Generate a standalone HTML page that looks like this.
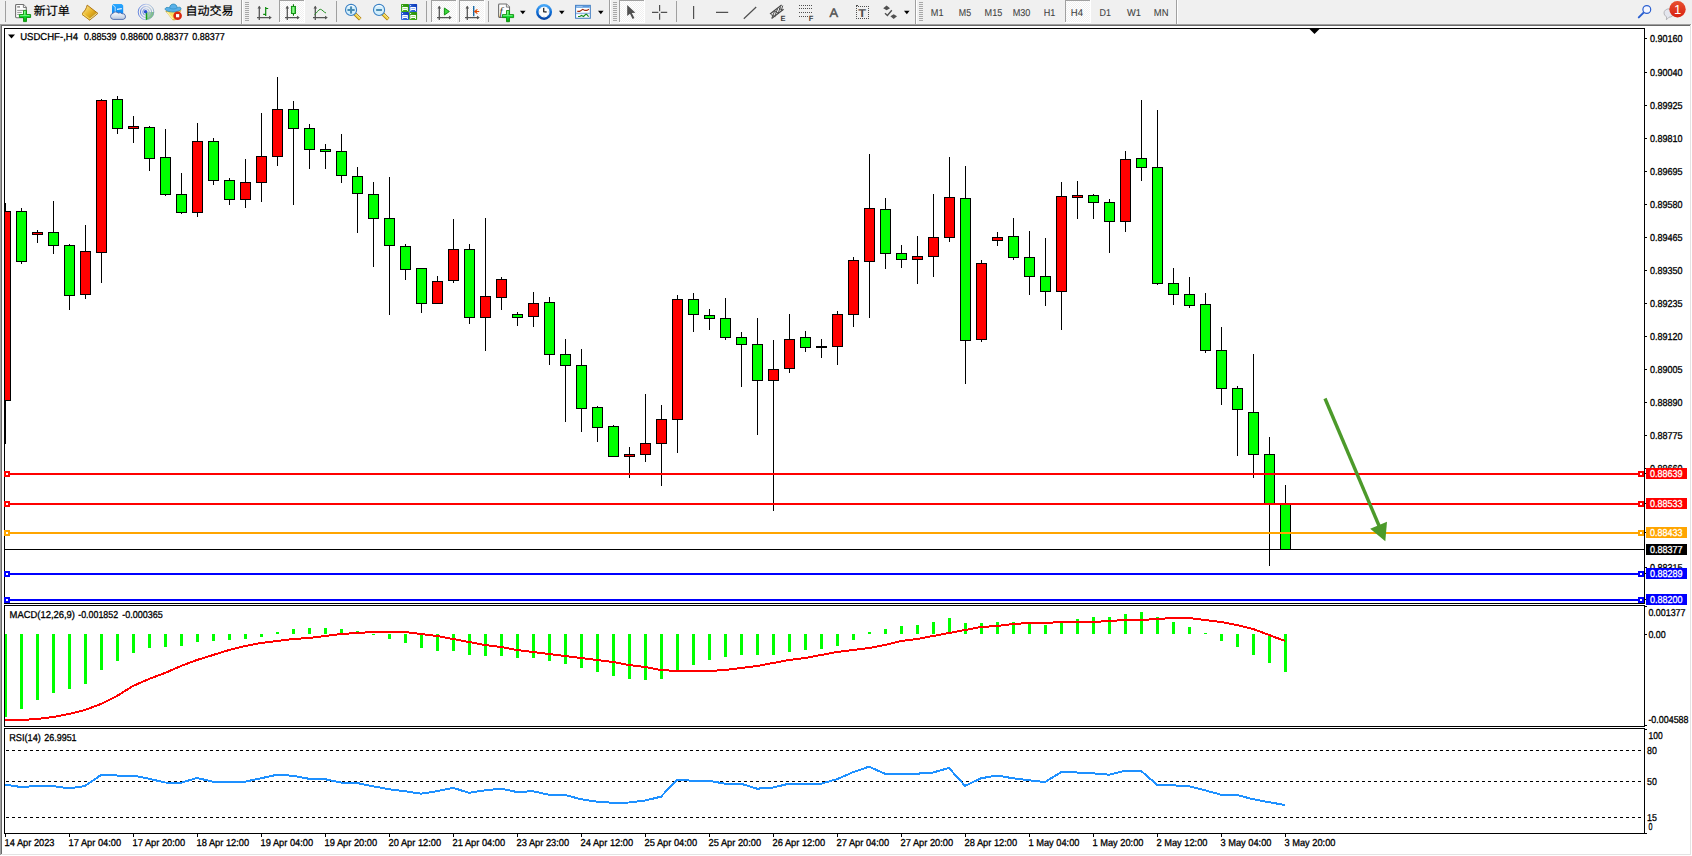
<!DOCTYPE html>
<html lang="zh-CN">
<head>
<meta charset="utf-8">
<title>USDCHF-,H4</title>
<style>
html,body{margin:0;padding:0;background:#fff;}
body{width:1692px;height:856px;overflow:hidden;}
svg{display:block;}
svg text{text-rendering:geometricPrecision;font-family:"Liberation Sans","Noto Sans CJK SC",sans-serif;}
</style>
</head>
<body>
<svg width="1692" height="856" viewBox="0 0 1692 856" shape-rendering="crispEdges">
<rect x="0" y="0" width="1692" height="856" fill="#ffffff"/>
<rect x="0" y="0" width="1692" height="24" fill="#f0f0f0"/>
<rect x="0" y="24" width="1691" height="1" fill="#a0a0a0"/>
<rect x="0" y="24" width="1" height="831" fill="#a0a0a0"/>
<rect x="1" y="25" width="1689" height="1" fill="#696969"/>
<rect x="1" y="25" width="1" height="829" fill="#696969"/>
<rect x="1690" y="25" width="1" height="830" fill="#e3e3e3"/>
<rect x="1" y="854" width="1690" height="1" fill="#e3e3e3"/>
<rect x="4" y="28" width="1641" height="1" fill="#000"/>
<rect x="4" y="28" width="1" height="806" fill="#000"/>
<rect x="1644" y="28" width="1" height="806" fill="#000"/>
<rect x="4" y="603" width="1641" height="1" fill="#000"/>
<rect x="4" y="605" width="1641" height="1" fill="#000"/>
<rect x="4" y="726" width="1641" height="1" fill="#000"/>
<rect x="4" y="728" width="1641" height="1" fill="#000"/>
<rect x="4" y="833" width="1641" height="1" fill="#000"/>
<rect x="4" y="604" width="1641" height="1" fill="#fff"/>
<rect x="4" y="727" width="1641" height="1" fill="#fff"/>
<polygon points="1309.5,29 1319.5,29 1314.5,34" fill="#000" shape-rendering="auto"/>
<clipPath id="cm"><rect x="5" y="29" width="1639" height="574"/></clipPath>
<g clip-path="url(#cm)">
<rect x="5" y="203" width="1" height="241" fill="#000"/>
<rect x="0" y="211" width="11" height="190" fill="#000"/>
<rect x="1" y="212" width="9" height="188" fill="#ff0000"/>
<rect x="21" y="208" width="1" height="56" fill="#000"/>
<rect x="16" y="211" width="11" height="51" fill="#000"/>
<rect x="17" y="212" width="9" height="49" fill="#00ff00"/>
<rect x="37" y="230" width="1" height="13" fill="#000"/>
<rect x="32" y="232" width="11" height="3" fill="#000"/>
<rect x="33" y="233" width="9" height="1" fill="#ff0000"/>
<rect x="53" y="201" width="1" height="53" fill="#000"/>
<rect x="48" y="232" width="11" height="14" fill="#000"/>
<rect x="49" y="233" width="9" height="12" fill="#00ff00"/>
<rect x="69" y="244" width="1" height="66" fill="#000"/>
<rect x="64" y="245" width="11" height="51" fill="#000"/>
<rect x="65" y="246" width="9" height="49" fill="#00ff00"/>
<rect x="85" y="225" width="1" height="74" fill="#000"/>
<rect x="80" y="251" width="11" height="44" fill="#000"/>
<rect x="81" y="252" width="9" height="42" fill="#ff0000"/>
<rect x="101" y="99" width="1" height="184" fill="#000"/>
<rect x="96" y="100" width="11" height="153" fill="#000"/>
<rect x="97" y="101" width="9" height="151" fill="#ff0000"/>
<rect x="117" y="96" width="1" height="38" fill="#000"/>
<rect x="112" y="99" width="11" height="30" fill="#000"/>
<rect x="113" y="100" width="9" height="28" fill="#00ff00"/>
<rect x="133" y="116" width="1" height="27" fill="#000"/>
<rect x="128" y="126" width="11" height="3" fill="#000"/>
<rect x="129" y="127" width="9" height="1" fill="#ff0000"/>
<rect x="149" y="126" width="1" height="45" fill="#000"/>
<rect x="144" y="127" width="11" height="32" fill="#000"/>
<rect x="145" y="128" width="9" height="30" fill="#00ff00"/>
<rect x="165" y="129" width="1" height="67" fill="#000"/>
<rect x="160" y="157" width="11" height="38" fill="#000"/>
<rect x="161" y="158" width="9" height="36" fill="#00ff00"/>
<rect x="181" y="173" width="1" height="41" fill="#000"/>
<rect x="176" y="194" width="11" height="19" fill="#000"/>
<rect x="177" y="195" width="9" height="17" fill="#00ff00"/>
<rect x="197" y="123" width="1" height="94" fill="#000"/>
<rect x="192" y="141" width="11" height="72" fill="#000"/>
<rect x="193" y="142" width="9" height="70" fill="#ff0000"/>
<rect x="213" y="138" width="1" height="47" fill="#000"/>
<rect x="208" y="141" width="11" height="40" fill="#000"/>
<rect x="209" y="142" width="9" height="38" fill="#00ff00"/>
<rect x="229" y="178" width="1" height="27" fill="#000"/>
<rect x="224" y="180" width="11" height="20" fill="#000"/>
<rect x="225" y="181" width="9" height="18" fill="#00ff00"/>
<rect x="245" y="159" width="1" height="49" fill="#000"/>
<rect x="240" y="182" width="11" height="18" fill="#000"/>
<rect x="241" y="183" width="9" height="16" fill="#ff0000"/>
<rect x="261" y="113" width="1" height="89" fill="#000"/>
<rect x="256" y="156" width="11" height="27" fill="#000"/>
<rect x="257" y="157" width="9" height="25" fill="#ff0000"/>
<rect x="277" y="77" width="1" height="89" fill="#000"/>
<rect x="272" y="109" width="11" height="48" fill="#000"/>
<rect x="273" y="110" width="9" height="46" fill="#ff0000"/>
<rect x="293" y="101" width="1" height="104" fill="#000"/>
<rect x="288" y="109" width="11" height="20" fill="#000"/>
<rect x="289" y="110" width="9" height="18" fill="#00ff00"/>
<rect x="309" y="124" width="1" height="45" fill="#000"/>
<rect x="304" y="128" width="11" height="22" fill="#000"/>
<rect x="305" y="129" width="9" height="20" fill="#00ff00"/>
<rect x="325" y="144" width="1" height="25" fill="#000"/>
<rect x="320" y="149" width="11" height="3" fill="#000"/>
<rect x="321" y="150" width="9" height="1" fill="#00ff00"/>
<rect x="341" y="134" width="1" height="49" fill="#000"/>
<rect x="336" y="151" width="11" height="25" fill="#000"/>
<rect x="337" y="152" width="9" height="23" fill="#00ff00"/>
<rect x="357" y="167" width="1" height="66" fill="#000"/>
<rect x="352" y="176" width="11" height="18" fill="#000"/>
<rect x="353" y="177" width="9" height="16" fill="#00ff00"/>
<rect x="373" y="182" width="1" height="85" fill="#000"/>
<rect x="368" y="194" width="11" height="25" fill="#000"/>
<rect x="369" y="195" width="9" height="23" fill="#00ff00"/>
<rect x="389" y="177" width="1" height="138" fill="#000"/>
<rect x="384" y="218" width="11" height="28" fill="#000"/>
<rect x="385" y="219" width="9" height="26" fill="#00ff00"/>
<rect x="405" y="244" width="1" height="36" fill="#000"/>
<rect x="400" y="246" width="11" height="24" fill="#000"/>
<rect x="401" y="247" width="9" height="22" fill="#00ff00"/>
<rect x="421" y="268" width="1" height="45" fill="#000"/>
<rect x="416" y="268" width="11" height="36" fill="#000"/>
<rect x="417" y="269" width="9" height="34" fill="#00ff00"/>
<rect x="437" y="276" width="1" height="28" fill="#000"/>
<rect x="432" y="281" width="11" height="23" fill="#000"/>
<rect x="433" y="282" width="9" height="21" fill="#ff0000"/>
<rect x="453" y="219" width="1" height="64" fill="#000"/>
<rect x="448" y="249" width="11" height="32" fill="#000"/>
<rect x="449" y="250" width="9" height="30" fill="#ff0000"/>
<rect x="469" y="244" width="1" height="80" fill="#000"/>
<rect x="464" y="249" width="11" height="69" fill="#000"/>
<rect x="465" y="250" width="9" height="67" fill="#00ff00"/>
<rect x="485" y="218" width="1" height="133" fill="#000"/>
<rect x="480" y="296" width="11" height="22" fill="#000"/>
<rect x="481" y="297" width="9" height="20" fill="#ff0000"/>
<rect x="501" y="277" width="1" height="33" fill="#000"/>
<rect x="496" y="279" width="11" height="19" fill="#000"/>
<rect x="497" y="280" width="9" height="17" fill="#ff0000"/>
<rect x="517" y="312" width="1" height="14" fill="#000"/>
<rect x="512" y="314" width="11" height="4" fill="#000"/>
<rect x="513" y="315" width="9" height="2" fill="#00ff00"/>
<rect x="533" y="292" width="1" height="35" fill="#000"/>
<rect x="528" y="303" width="11" height="14" fill="#000"/>
<rect x="529" y="304" width="9" height="12" fill="#ff0000"/>
<rect x="549" y="297" width="1" height="68" fill="#000"/>
<rect x="544" y="302" width="11" height="53" fill="#000"/>
<rect x="545" y="303" width="9" height="51" fill="#00ff00"/>
<rect x="565" y="339" width="1" height="83" fill="#000"/>
<rect x="560" y="354" width="11" height="12" fill="#000"/>
<rect x="561" y="355" width="9" height="10" fill="#00ff00"/>
<rect x="581" y="349" width="1" height="83" fill="#000"/>
<rect x="576" y="365" width="11" height="44" fill="#000"/>
<rect x="577" y="366" width="9" height="42" fill="#00ff00"/>
<rect x="597" y="406" width="1" height="36" fill="#000"/>
<rect x="592" y="407" width="11" height="21" fill="#000"/>
<rect x="593" y="408" width="9" height="19" fill="#00ff00"/>
<rect x="613" y="425" width="1" height="32" fill="#000"/>
<rect x="608" y="426" width="11" height="31" fill="#000"/>
<rect x="609" y="427" width="9" height="29" fill="#00ff00"/>
<rect x="629" y="447" width="1" height="31" fill="#000"/>
<rect x="624" y="454" width="11" height="3" fill="#000"/>
<rect x="625" y="455" width="9" height="1" fill="#ff0000"/>
<rect x="645" y="394" width="1" height="68" fill="#000"/>
<rect x="640" y="443" width="11" height="12" fill="#000"/>
<rect x="641" y="444" width="9" height="10" fill="#ff0000"/>
<rect x="661" y="405" width="1" height="81" fill="#000"/>
<rect x="656" y="419" width="11" height="25" fill="#000"/>
<rect x="657" y="420" width="9" height="23" fill="#ff0000"/>
<rect x="677" y="295" width="1" height="158" fill="#000"/>
<rect x="672" y="299" width="11" height="121" fill="#000"/>
<rect x="673" y="300" width="9" height="119" fill="#ff0000"/>
<rect x="693" y="293" width="1" height="39" fill="#000"/>
<rect x="688" y="299" width="11" height="16" fill="#000"/>
<rect x="689" y="300" width="9" height="14" fill="#00ff00"/>
<rect x="709" y="309" width="1" height="21" fill="#000"/>
<rect x="704" y="315" width="11" height="4" fill="#000"/>
<rect x="705" y="316" width="9" height="2" fill="#00ff00"/>
<rect x="725" y="298" width="1" height="42" fill="#000"/>
<rect x="720" y="318" width="11" height="20" fill="#000"/>
<rect x="721" y="319" width="9" height="18" fill="#00ff00"/>
<rect x="741" y="332" width="1" height="55" fill="#000"/>
<rect x="736" y="337" width="11" height="8" fill="#000"/>
<rect x="737" y="338" width="9" height="6" fill="#00ff00"/>
<rect x="757" y="318" width="1" height="117" fill="#000"/>
<rect x="752" y="344" width="11" height="37" fill="#000"/>
<rect x="753" y="345" width="9" height="35" fill="#00ff00"/>
<rect x="773" y="340" width="1" height="171" fill="#000"/>
<rect x="768" y="369" width="11" height="12" fill="#000"/>
<rect x="769" y="370" width="9" height="10" fill="#ff0000"/>
<rect x="789" y="314" width="1" height="59" fill="#000"/>
<rect x="784" y="339" width="11" height="30" fill="#000"/>
<rect x="785" y="340" width="9" height="28" fill="#ff0000"/>
<rect x="805" y="331" width="1" height="21" fill="#000"/>
<rect x="800" y="337" width="11" height="11" fill="#000"/>
<rect x="801" y="338" width="9" height="9" fill="#00ff00"/>
<rect x="821" y="339" width="1" height="19" fill="#000"/>
<rect x="816" y="346" width="11" height="2" fill="#000"/>
<rect x="837" y="311" width="1" height="54" fill="#000"/>
<rect x="832" y="314" width="11" height="33" fill="#000"/>
<rect x="833" y="315" width="9" height="31" fill="#ff0000"/>
<rect x="853" y="257" width="1" height="70" fill="#000"/>
<rect x="848" y="260" width="11" height="55" fill="#000"/>
<rect x="849" y="261" width="9" height="53" fill="#ff0000"/>
<rect x="869" y="154" width="1" height="164" fill="#000"/>
<rect x="864" y="208" width="11" height="54" fill="#000"/>
<rect x="865" y="209" width="9" height="52" fill="#ff0000"/>
<rect x="885" y="198" width="1" height="71" fill="#000"/>
<rect x="880" y="209" width="11" height="45" fill="#000"/>
<rect x="881" y="210" width="9" height="43" fill="#00ff00"/>
<rect x="901" y="245" width="1" height="23" fill="#000"/>
<rect x="896" y="253" width="11" height="7" fill="#000"/>
<rect x="897" y="254" width="9" height="5" fill="#00ff00"/>
<rect x="917" y="236" width="1" height="48" fill="#000"/>
<rect x="912" y="256" width="11" height="4" fill="#000"/>
<rect x="913" y="257" width="9" height="2" fill="#ff0000"/>
<rect x="933" y="194" width="1" height="83" fill="#000"/>
<rect x="928" y="237" width="11" height="20" fill="#000"/>
<rect x="929" y="238" width="9" height="18" fill="#ff0000"/>
<rect x="949" y="157" width="1" height="85" fill="#000"/>
<rect x="944" y="197" width="11" height="41" fill="#000"/>
<rect x="945" y="198" width="9" height="39" fill="#ff0000"/>
<rect x="965" y="166" width="1" height="218" fill="#000"/>
<rect x="960" y="198" width="11" height="143" fill="#000"/>
<rect x="961" y="199" width="9" height="141" fill="#00ff00"/>
<rect x="981" y="260" width="1" height="82" fill="#000"/>
<rect x="976" y="263" width="11" height="77" fill="#000"/>
<rect x="977" y="264" width="9" height="75" fill="#ff0000"/>
<rect x="997" y="232" width="1" height="14" fill="#000"/>
<rect x="992" y="237" width="11" height="4" fill="#000"/>
<rect x="993" y="238" width="9" height="2" fill="#ff0000"/>
<rect x="1013" y="218" width="1" height="42" fill="#000"/>
<rect x="1008" y="236" width="11" height="22" fill="#000"/>
<rect x="1009" y="237" width="9" height="20" fill="#00ff00"/>
<rect x="1029" y="231" width="1" height="64" fill="#000"/>
<rect x="1024" y="257" width="11" height="20" fill="#000"/>
<rect x="1025" y="258" width="9" height="18" fill="#00ff00"/>
<rect x="1045" y="238" width="1" height="68" fill="#000"/>
<rect x="1040" y="276" width="11" height="16" fill="#000"/>
<rect x="1041" y="277" width="9" height="14" fill="#00ff00"/>
<rect x="1061" y="182" width="1" height="148" fill="#000"/>
<rect x="1056" y="196" width="11" height="96" fill="#000"/>
<rect x="1057" y="197" width="9" height="94" fill="#ff0000"/>
<rect x="1077" y="181" width="1" height="38" fill="#000"/>
<rect x="1072" y="195" width="11" height="3" fill="#000"/>
<rect x="1073" y="196" width="9" height="1" fill="#ff0000"/>
<rect x="1093" y="194" width="1" height="25" fill="#000"/>
<rect x="1088" y="195" width="11" height="8" fill="#000"/>
<rect x="1089" y="196" width="9" height="6" fill="#00ff00"/>
<rect x="1109" y="199" width="1" height="54" fill="#000"/>
<rect x="1104" y="202" width="11" height="20" fill="#000"/>
<rect x="1105" y="203" width="9" height="18" fill="#00ff00"/>
<rect x="1125" y="151" width="1" height="81" fill="#000"/>
<rect x="1120" y="159" width="11" height="63" fill="#000"/>
<rect x="1121" y="160" width="9" height="61" fill="#ff0000"/>
<rect x="1141" y="100" width="1" height="81" fill="#000"/>
<rect x="1136" y="158" width="11" height="10" fill="#000"/>
<rect x="1137" y="159" width="9" height="8" fill="#00ff00"/>
<rect x="1157" y="110" width="1" height="175" fill="#000"/>
<rect x="1152" y="167" width="11" height="117" fill="#000"/>
<rect x="1153" y="168" width="9" height="115" fill="#00ff00"/>
<rect x="1173" y="268" width="1" height="37" fill="#000"/>
<rect x="1168" y="283" width="11" height="12" fill="#000"/>
<rect x="1169" y="284" width="9" height="10" fill="#00ff00"/>
<rect x="1189" y="277" width="1" height="31" fill="#000"/>
<rect x="1184" y="294" width="11" height="12" fill="#000"/>
<rect x="1185" y="295" width="9" height="10" fill="#00ff00"/>
<rect x="1205" y="293" width="1" height="60" fill="#000"/>
<rect x="1200" y="304" width="11" height="47" fill="#000"/>
<rect x="1201" y="305" width="9" height="45" fill="#00ff00"/>
<rect x="1221" y="327" width="1" height="78" fill="#000"/>
<rect x="1216" y="350" width="11" height="39" fill="#000"/>
<rect x="1217" y="351" width="9" height="37" fill="#00ff00"/>
<rect x="1237" y="386" width="1" height="70" fill="#000"/>
<rect x="1232" y="388" width="11" height="22" fill="#000"/>
<rect x="1233" y="389" width="9" height="20" fill="#00ff00"/>
<rect x="1253" y="354" width="1" height="124" fill="#000"/>
<rect x="1248" y="412" width="11" height="43" fill="#000"/>
<rect x="1249" y="413" width="9" height="41" fill="#00ff00"/>
<rect x="1269" y="437" width="1" height="129" fill="#000"/>
<rect x="1264" y="454" width="11" height="50" fill="#000"/>
<rect x="1265" y="455" width="9" height="48" fill="#00ff00"/>
<rect x="1285" y="485" width="1" height="65" fill="#000"/>
<rect x="1280" y="504" width="11" height="46" fill="#000"/>
<rect x="1281" y="505" width="9" height="44" fill="#00ff00"/>
</g>
<rect x="1645" y="38" width="2" height="1" fill="#000"/>
<text x="1650" y="42" font-size="10" fill="#000" textLength="32.6" lengthAdjust="spacingAndGlyphs" stroke="#000" stroke-width="0.3">0.90160</text>
<rect x="1645" y="72" width="2" height="1" fill="#000"/>
<text x="1650" y="76" font-size="10" fill="#000" textLength="32.6" lengthAdjust="spacingAndGlyphs" stroke="#000" stroke-width="0.3">0.90040</text>
<rect x="1645" y="105" width="2" height="1" fill="#000"/>
<text x="1650" y="109" font-size="10" fill="#000" textLength="32.6" lengthAdjust="spacingAndGlyphs" stroke="#000" stroke-width="0.3">0.89925</text>
<rect x="1645" y="138" width="2" height="1" fill="#000"/>
<text x="1650" y="142" font-size="10" fill="#000" textLength="32.6" lengthAdjust="spacingAndGlyphs" stroke="#000" stroke-width="0.3">0.89810</text>
<rect x="1645" y="171" width="2" height="1" fill="#000"/>
<text x="1650" y="175" font-size="10" fill="#000" textLength="32.6" lengthAdjust="spacingAndGlyphs" stroke="#000" stroke-width="0.3">0.89695</text>
<rect x="1645" y="204" width="2" height="1" fill="#000"/>
<text x="1650" y="208" font-size="10" fill="#000" textLength="32.6" lengthAdjust="spacingAndGlyphs" stroke="#000" stroke-width="0.3">0.89580</text>
<rect x="1645" y="237" width="2" height="1" fill="#000"/>
<text x="1650" y="241" font-size="10" fill="#000" textLength="32.6" lengthAdjust="spacingAndGlyphs" stroke="#000" stroke-width="0.3">0.89465</text>
<rect x="1645" y="270" width="2" height="1" fill="#000"/>
<text x="1650" y="274" font-size="10" fill="#000" textLength="32.6" lengthAdjust="spacingAndGlyphs" stroke="#000" stroke-width="0.3">0.89350</text>
<rect x="1645" y="303" width="2" height="1" fill="#000"/>
<text x="1650" y="307" font-size="10" fill="#000" textLength="32.6" lengthAdjust="spacingAndGlyphs" stroke="#000" stroke-width="0.3">0.89235</text>
<rect x="1645" y="336" width="2" height="1" fill="#000"/>
<text x="1650" y="340" font-size="10" fill="#000" textLength="32.6" lengthAdjust="spacingAndGlyphs" stroke="#000" stroke-width="0.3">0.89120</text>
<rect x="1645" y="369" width="2" height="1" fill="#000"/>
<text x="1650" y="373" font-size="10" fill="#000" textLength="32.6" lengthAdjust="spacingAndGlyphs" stroke="#000" stroke-width="0.3">0.89005</text>
<rect x="1645" y="402" width="2" height="1" fill="#000"/>
<text x="1650" y="406" font-size="10" fill="#000" textLength="32.6" lengthAdjust="spacingAndGlyphs" stroke="#000" stroke-width="0.3">0.88890</text>
<rect x="1645" y="435" width="2" height="1" fill="#000"/>
<text x="1650" y="439" font-size="10" fill="#000" textLength="32.6" lengthAdjust="spacingAndGlyphs" stroke="#000" stroke-width="0.3">0.88775</text>
<rect x="1645" y="468" width="2" height="1" fill="#000"/>
<text x="1650" y="472" font-size="10" fill="#000" textLength="32.6" lengthAdjust="spacingAndGlyphs" stroke="#000" stroke-width="0.3">0.88660</text>
<rect x="1645" y="567" width="2" height="1" fill="#000"/>
<text x="1650" y="571" font-size="10" fill="#000" textLength="32.6" lengthAdjust="spacingAndGlyphs" stroke="#000" stroke-width="0.3">0.88315</text>
<rect x="5" y="549" width="1639" height="1" fill="#000"/>
<rect x="1646" y="544" width="41" height="11" fill="#000"/>
<text x="1650" y="553" font-size="10" fill="#fff" textLength="32.6" lengthAdjust="spacingAndGlyphs" stroke="#fff" stroke-width="0.3">0.88377</text>
<rect x="5" y="473" width="1639" height="2" fill="#ff0000"/>
<rect x="4" y="471" width="6" height="6" fill="#ff0000"/>
<rect x="6" y="473" width="2" height="2" fill="#fff"/>
<rect x="1638" y="471" width="6" height="6" fill="#ff0000"/>
<rect x="1640" y="473" width="2" height="2" fill="#fff"/>
<rect x="1645" y="473" width="2" height="1" fill="#000"/>
<rect x="1646" y="468" width="41" height="11" fill="#ff0000"/>
<text x="1650" y="477" font-size="10" fill="#fff" textLength="32.6" lengthAdjust="spacingAndGlyphs" stroke="#fff" stroke-width="0.3">0.88639</text>
<rect x="5" y="503" width="1639" height="2" fill="#ff0000"/>
<rect x="4" y="501" width="6" height="6" fill="#ff0000"/>
<rect x="6" y="503" width="2" height="2" fill="#fff"/>
<rect x="1638" y="501" width="6" height="6" fill="#ff0000"/>
<rect x="1640" y="503" width="2" height="2" fill="#fff"/>
<rect x="1645" y="503" width="2" height="1" fill="#000"/>
<rect x="1646" y="498" width="41" height="11" fill="#ff0000"/>
<text x="1650" y="507" font-size="10" fill="#fff" textLength="32.6" lengthAdjust="spacingAndGlyphs" stroke="#fff" stroke-width="0.3">0.88533</text>
<rect x="5" y="532" width="1639" height="2" fill="#ffa500"/>
<rect x="4" y="530" width="6" height="6" fill="#ffa500"/>
<rect x="6" y="532" width="2" height="2" fill="#fff"/>
<rect x="1638" y="530" width="6" height="6" fill="#ffa500"/>
<rect x="1640" y="532" width="2" height="2" fill="#fff"/>
<rect x="1645" y="532" width="2" height="1" fill="#000"/>
<rect x="1646" y="527" width="41" height="11" fill="#ffa500"/>
<text x="1650" y="536" font-size="10" fill="#fff" textLength="32.6" lengthAdjust="spacingAndGlyphs" stroke="#fff" stroke-width="0.3">0.88433</text>
<rect x="5" y="573" width="1639" height="2" fill="#0000ff"/>
<rect x="4" y="571" width="6" height="6" fill="#0000ff"/>
<rect x="6" y="573" width="2" height="2" fill="#fff"/>
<rect x="1638" y="571" width="6" height="6" fill="#0000ff"/>
<rect x="1640" y="573" width="2" height="2" fill="#fff"/>
<rect x="1645" y="573" width="2" height="1" fill="#000"/>
<rect x="1646" y="568" width="41" height="11" fill="#0000ff"/>
<text x="1650" y="577" font-size="10" fill="#fff" textLength="32.6" lengthAdjust="spacingAndGlyphs" stroke="#fff" stroke-width="0.3">0.88289</text>
<rect x="5" y="599" width="1639" height="2" fill="#0000ff"/>
<rect x="4" y="597" width="6" height="6" fill="#0000ff"/>
<rect x="6" y="599" width="2" height="2" fill="#fff"/>
<rect x="1638" y="597" width="6" height="6" fill="#0000ff"/>
<rect x="1640" y="599" width="2" height="2" fill="#fff"/>
<rect x="1645" y="599" width="2" height="1" fill="#000"/>
<rect x="1646" y="594" width="41" height="11" fill="#0000ff"/>
<text x="1650" y="603" font-size="10" fill="#fff" textLength="32.6" lengthAdjust="spacingAndGlyphs" stroke="#fff" stroke-width="0.3">0.88200</text>
<g shape-rendering="auto"><line x1="1325" y1="398.5" x2="1380" y2="528" stroke="#4c9a2a" stroke-width="3.4"/><polygon points="1370.2,528.7 1387,521.8 1385.3,541.2" fill="#4c9a2a"/></g>
<polygon points="8,34.5 15,34.5 11.5,38.5" fill="#000" shape-rendering="auto"/>
<text x="20.2" y="40" font-size="10" fill="#000" textLength="57.8" lengthAdjust="spacingAndGlyphs" stroke="#000" stroke-width="0.3">USDCHF-,H4</text>
<text x="84.0" y="40" font-size="10" fill="#000" textLength="32.5" lengthAdjust="spacingAndGlyphs" stroke="#000" stroke-width="0.3">0.88539</text>
<text x="120.6" y="40" font-size="10" fill="#000" textLength="32.5" lengthAdjust="spacingAndGlyphs" stroke="#000" stroke-width="0.3">0.88600</text>
<text x="156.1" y="40" font-size="10" fill="#000" textLength="32.5" lengthAdjust="spacingAndGlyphs" stroke="#000" stroke-width="0.3">0.88377</text>
<text x="192.3" y="40" font-size="10" fill="#000" textLength="32.5" lengthAdjust="spacingAndGlyphs" stroke="#000" stroke-width="0.3">0.88377</text>
<rect x="5" y="634" width="2" height="83" fill="#00ff00"/>
<rect x="20" y="634" width="3" height="75" fill="#00ff00"/>
<rect x="36" y="634" width="3" height="66" fill="#00ff00"/>
<rect x="52" y="634" width="3" height="59" fill="#00ff00"/>
<rect x="68" y="634" width="3" height="55" fill="#00ff00"/>
<rect x="84" y="634" width="3" height="50" fill="#00ff00"/>
<rect x="100" y="634" width="3" height="36" fill="#00ff00"/>
<rect x="116" y="634" width="3" height="27" fill="#00ff00"/>
<rect x="132" y="634" width="3" height="19" fill="#00ff00"/>
<rect x="148" y="634" width="3" height="14" fill="#00ff00"/>
<rect x="164" y="634" width="3" height="13" fill="#00ff00"/>
<rect x="180" y="634" width="3" height="12" fill="#00ff00"/>
<rect x="196" y="634" width="3" height="8" fill="#00ff00"/>
<rect x="212" y="634" width="3" height="7" fill="#00ff00"/>
<rect x="228" y="634" width="3" height="6" fill="#00ff00"/>
<rect x="244" y="634" width="3" height="5" fill="#00ff00"/>
<rect x="260" y="634" width="3" height="3" fill="#00ff00"/>
<rect x="276" y="632" width="3" height="2" fill="#00ff00"/>
<rect x="292" y="629" width="3" height="5" fill="#00ff00"/>
<rect x="308" y="628" width="3" height="6" fill="#00ff00"/>
<rect x="324" y="628" width="3" height="6" fill="#00ff00"/>
<rect x="340" y="629" width="3" height="5" fill="#00ff00"/>
<rect x="356" y="631" width="3" height="3" fill="#00ff00"/>
<rect x="372" y="634" width="3" height="1" fill="#00ff00"/>
<rect x="388" y="634" width="3" height="5" fill="#00ff00"/>
<rect x="404" y="634" width="3" height="9" fill="#00ff00"/>
<rect x="420" y="634" width="3" height="14" fill="#00ff00"/>
<rect x="436" y="634" width="3" height="17" fill="#00ff00"/>
<rect x="452" y="634" width="3" height="17" fill="#00ff00"/>
<rect x="468" y="634" width="3" height="21" fill="#00ff00"/>
<rect x="484" y="634" width="3" height="22" fill="#00ff00"/>
<rect x="500" y="634" width="3" height="22" fill="#00ff00"/>
<rect x="516" y="634" width="3" height="24" fill="#00ff00"/>
<rect x="532" y="634" width="3" height="24" fill="#00ff00"/>
<rect x="548" y="634" width="3" height="27" fill="#00ff00"/>
<rect x="564" y="634" width="3" height="30" fill="#00ff00"/>
<rect x="580" y="634" width="3" height="34" fill="#00ff00"/>
<rect x="596" y="634" width="3" height="38" fill="#00ff00"/>
<rect x="612" y="634" width="3" height="42" fill="#00ff00"/>
<rect x="628" y="634" width="3" height="45" fill="#00ff00"/>
<rect x="644" y="634" width="3" height="46" fill="#00ff00"/>
<rect x="660" y="634" width="3" height="45" fill="#00ff00"/>
<rect x="676" y="634" width="3" height="37" fill="#00ff00"/>
<rect x="692" y="634" width="3" height="31" fill="#00ff00"/>
<rect x="708" y="634" width="3" height="26" fill="#00ff00"/>
<rect x="724" y="634" width="3" height="23" fill="#00ff00"/>
<rect x="740" y="634" width="3" height="21" fill="#00ff00"/>
<rect x="756" y="634" width="3" height="21" fill="#00ff00"/>
<rect x="772" y="634" width="3" height="21" fill="#00ff00"/>
<rect x="788" y="634" width="3" height="18" fill="#00ff00"/>
<rect x="804" y="634" width="3" height="16" fill="#00ff00"/>
<rect x="820" y="634" width="3" height="15" fill="#00ff00"/>
<rect x="836" y="634" width="3" height="12" fill="#00ff00"/>
<rect x="852" y="634" width="3" height="6" fill="#00ff00"/>
<rect x="868" y="632" width="3" height="2" fill="#00ff00"/>
<rect x="884" y="629" width="3" height="5" fill="#00ff00"/>
<rect x="900" y="626" width="3" height="8" fill="#00ff00"/>
<rect x="916" y="625" width="3" height="9" fill="#00ff00"/>
<rect x="932" y="622" width="3" height="12" fill="#00ff00"/>
<rect x="948" y="618" width="3" height="16" fill="#00ff00"/>
<rect x="964" y="623" width="3" height="11" fill="#00ff00"/>
<rect x="980" y="623" width="3" height="11" fill="#00ff00"/>
<rect x="996" y="622" width="3" height="12" fill="#00ff00"/>
<rect x="1012" y="622" width="3" height="12" fill="#00ff00"/>
<rect x="1028" y="624" width="3" height="10" fill="#00ff00"/>
<rect x="1044" y="625" width="3" height="9" fill="#00ff00"/>
<rect x="1060" y="621" width="3" height="13" fill="#00ff00"/>
<rect x="1076" y="619" width="3" height="15" fill="#00ff00"/>
<rect x="1092" y="617" width="3" height="17" fill="#00ff00"/>
<rect x="1108" y="617" width="3" height="17" fill="#00ff00"/>
<rect x="1124" y="614" width="3" height="20" fill="#00ff00"/>
<rect x="1140" y="612" width="3" height="22" fill="#00ff00"/>
<rect x="1156" y="617" width="3" height="17" fill="#00ff00"/>
<rect x="1172" y="622" width="3" height="12" fill="#00ff00"/>
<rect x="1188" y="627" width="3" height="7" fill="#00ff00"/>
<rect x="1204" y="633" width="3" height="1" fill="#00ff00"/>
<rect x="1220" y="634" width="3" height="7" fill="#00ff00"/>
<rect x="1236" y="634" width="3" height="13" fill="#00ff00"/>
<rect x="1252" y="634" width="3" height="21" fill="#00ff00"/>
<rect x="1268" y="634" width="3" height="29" fill="#00ff00"/>
<rect x="1284" y="634" width="3" height="38" fill="#00ff00"/>
<polyline points="5,720 21,720 37,719 53,717 69,714 85,710 101,704 117,696 133,686 149,679 165,673 181,666 197,660 213,655 229,650 245,646 261,643 277,641 293,639 309,638 325,636 341,634 357,633 373,632 389,632 405,632 421,634 437,636 453,639 469,642 485,645 501,647 517,650 533,652 549,654 565,656 581,658 597,660 613,662 629,665 645,667 661,670 677,671 693,671 709,671 725,670 741,668 757,666 773,663 789,660 805,658 821,655 837,652 853,650 869,648 885,645 901,641 917,639 933,636 949,633 965,630 981,627 997,626 1013,624 1029,623 1045,623 1061,622 1077,622 1093,622 1109,621 1125,620 1141,620 1157,619 1173,618 1189,618 1205,620 1221,622 1237,625 1253,629 1269,635 1285,641" fill="none" stroke="#ff0000" stroke-width="2"/>
<text x="9.6" y="618" font-size="10" fill="#000" textLength="65.4" lengthAdjust="spacingAndGlyphs" stroke="#000" stroke-width="0.3">MACD(12,26,9)</text>
<text x="78.2" y="618" font-size="10" fill="#000" textLength="39.9" lengthAdjust="spacingAndGlyphs" stroke="#000" stroke-width="0.3">-0.001852</text>
<text x="122.3" y="618" font-size="10" fill="#000" textLength="40.5" lengthAdjust="spacingAndGlyphs" stroke="#000" stroke-width="0.3">-0.000365</text>
<rect x="1645" y="606" width="2" height="1" fill="#000"/>
<text x="1648.4" y="616" font-size="10" fill="#000" textLength="37.1" lengthAdjust="spacingAndGlyphs" stroke="#000" stroke-width="0.3">0.001377</text>
<rect x="1645" y="634" width="2" height="1" fill="#000"/>
<text x="1648.4" y="638" font-size="10" fill="#000" textLength="17.3" lengthAdjust="spacingAndGlyphs" stroke="#000" stroke-width="0.3">0.00</text>
<rect x="1645" y="725" width="2" height="1" fill="#000"/>
<text x="1648.4" y="723" font-size="10" fill="#000" textLength="40.1" lengthAdjust="spacingAndGlyphs" stroke="#000" stroke-width="0.3">-0.004588</text>
<line x1="6" y1="750.5" x2="1644" y2="750.5" stroke="#000" stroke-width="1" stroke-dasharray="3 3"/>
<line x1="6" y1="781.5" x2="1644" y2="781.5" stroke="#000" stroke-width="1" stroke-dasharray="3 3"/>
<line x1="6" y1="817.5" x2="1644" y2="817.5" stroke="#000" stroke-width="1" stroke-dasharray="3 3"/>
<polyline points="5,784.7 21,787 37,786 53,786 69,788.5 85,786 101,775 117,775.5 133,775.5 149,778.7 165,782.5 181,782.8 197,778 213,781.7 229,782 245,781.7 261,778.3 277,774.7 293,775.8 309,778.8 325,779.2 341,782.5 357,783 373,786.3 389,789.2 405,791.2 421,793.7 437,791.2 453,787.8 469,792.8 485,790.3 501,788.7 517,792 533,791.2 549,794.8 565,795 581,799.2 597,801.7 613,802.8 629,802.5 645,800.5 661,796.7 677,779.7 693,780.8 709,780.8 725,783.7 741,783.7 757,788.7 773,787.5 789,783.7 805,783.7 821,783.7 837,779.2 853,772.2 869,766.7 885,773.7 901,773.7 917,773.7 933,772.5 949,768 965,785.8 981,778.3 997,775.5 1013,778.3 1029,780.3 1045,782 1061,772.3 1077,772.5 1093,773.3 1109,774.7 1125,770.8 1141,770.8 1157,784.7 1173,785.3 1189,786.3 1205,790.3 1221,794.7 1237,795 1253,799.2 1269,802.2 1285,805" fill="none" stroke="#1e90ff" stroke-width="2"/>
<text x="9.2" y="741" font-size="10" fill="#000" textLength="31.6" lengthAdjust="spacingAndGlyphs" stroke="#000" stroke-width="0.3">RSI(14)</text>
<text x="44.3" y="741" font-size="10" fill="#000" textLength="32.3" lengthAdjust="spacingAndGlyphs" stroke="#000" stroke-width="0.3">26.9951</text>
<rect x="1645" y="729" width="2" height="1" fill="#000"/>
<rect x="1645" y="833" width="2" height="1" fill="#000"/>
<text x="1648.5" y="739" font-size="10" fill="#000" textLength="14.1" lengthAdjust="spacingAndGlyphs" stroke="#000" stroke-width="0.3">100</text>
<text x="1647" y="754" font-size="10" fill="#000" textLength="9.8" lengthAdjust="spacingAndGlyphs" stroke="#000" stroke-width="0.3">80</text>
<text x="1647" y="785" font-size="10" fill="#000" textLength="9.8" lengthAdjust="spacingAndGlyphs" stroke="#000" stroke-width="0.3">50</text>
<text x="1647" y="821" font-size="10" fill="#000" textLength="9.8" lengthAdjust="spacingAndGlyphs" stroke="#000" stroke-width="0.3">15</text>
<text x="1648.5" y="830" font-size="10" fill="#000" textLength="4" lengthAdjust="spacingAndGlyphs" stroke="#000" stroke-width="0.3">0</text>
<rect x="5" y="834" width="1" height="3" fill="#000"/>
<text x="4.5" y="846" font-size="10" fill="#000" textLength="50.0" lengthAdjust="spacingAndGlyphs" stroke="#000" stroke-width="0.3">14 Apr 2023</text>
<rect x="69" y="834" width="1" height="3" fill="#000"/>
<text x="68.5" y="846" font-size="10" fill="#000" textLength="52.6" lengthAdjust="spacingAndGlyphs" stroke="#000" stroke-width="0.3">17 Apr 04:00</text>
<rect x="133" y="834" width="1" height="3" fill="#000"/>
<text x="132.5" y="846" font-size="10" fill="#000" textLength="52.6" lengthAdjust="spacingAndGlyphs" stroke="#000" stroke-width="0.3">17 Apr 20:00</text>
<rect x="197" y="834" width="1" height="3" fill="#000"/>
<text x="196.5" y="846" font-size="10" fill="#000" textLength="52.6" lengthAdjust="spacingAndGlyphs" stroke="#000" stroke-width="0.3">18 Apr 12:00</text>
<rect x="261" y="834" width="1" height="3" fill="#000"/>
<text x="260.5" y="846" font-size="10" fill="#000" textLength="52.6" lengthAdjust="spacingAndGlyphs" stroke="#000" stroke-width="0.3">19 Apr 04:00</text>
<rect x="325" y="834" width="1" height="3" fill="#000"/>
<text x="324.5" y="846" font-size="10" fill="#000" textLength="52.6" lengthAdjust="spacingAndGlyphs" stroke="#000" stroke-width="0.3">19 Apr 20:00</text>
<rect x="389" y="834" width="1" height="3" fill="#000"/>
<text x="388.5" y="846" font-size="10" fill="#000" textLength="52.6" lengthAdjust="spacingAndGlyphs" stroke="#000" stroke-width="0.3">20 Apr 12:00</text>
<rect x="453" y="834" width="1" height="3" fill="#000"/>
<text x="452.5" y="846" font-size="10" fill="#000" textLength="52.6" lengthAdjust="spacingAndGlyphs" stroke="#000" stroke-width="0.3">21 Apr 04:00</text>
<rect x="517" y="834" width="1" height="3" fill="#000"/>
<text x="516.5" y="846" font-size="10" fill="#000" textLength="52.6" lengthAdjust="spacingAndGlyphs" stroke="#000" stroke-width="0.3">23 Apr 23:00</text>
<rect x="581" y="834" width="1" height="3" fill="#000"/>
<text x="580.5" y="846" font-size="10" fill="#000" textLength="52.6" lengthAdjust="spacingAndGlyphs" stroke="#000" stroke-width="0.3">24 Apr 12:00</text>
<rect x="645" y="834" width="1" height="3" fill="#000"/>
<text x="644.5" y="846" font-size="10" fill="#000" textLength="52.6" lengthAdjust="spacingAndGlyphs" stroke="#000" stroke-width="0.3">25 Apr 04:00</text>
<rect x="709" y="834" width="1" height="3" fill="#000"/>
<text x="708.5" y="846" font-size="10" fill="#000" textLength="52.6" lengthAdjust="spacingAndGlyphs" stroke="#000" stroke-width="0.3">25 Apr 20:00</text>
<rect x="773" y="834" width="1" height="3" fill="#000"/>
<text x="772.5" y="846" font-size="10" fill="#000" textLength="52.6" lengthAdjust="spacingAndGlyphs" stroke="#000" stroke-width="0.3">26 Apr 12:00</text>
<rect x="837" y="834" width="1" height="3" fill="#000"/>
<text x="836.5" y="846" font-size="10" fill="#000" textLength="52.6" lengthAdjust="spacingAndGlyphs" stroke="#000" stroke-width="0.3">27 Apr 04:00</text>
<rect x="901" y="834" width="1" height="3" fill="#000"/>
<text x="900.5" y="846" font-size="10" fill="#000" textLength="52.6" lengthAdjust="spacingAndGlyphs" stroke="#000" stroke-width="0.3">27 Apr 20:00</text>
<rect x="965" y="834" width="1" height="3" fill="#000"/>
<text x="964.5" y="846" font-size="10" fill="#000" textLength="52.6" lengthAdjust="spacingAndGlyphs" stroke="#000" stroke-width="0.3">28 Apr 12:00</text>
<rect x="1029" y="834" width="1" height="3" fill="#000"/>
<text x="1028.5" y="846" font-size="10" fill="#000" textLength="51.0" lengthAdjust="spacingAndGlyphs" stroke="#000" stroke-width="0.3">1 May 04:00</text>
<rect x="1093" y="834" width="1" height="3" fill="#000"/>
<text x="1092.5" y="846" font-size="10" fill="#000" textLength="51.0" lengthAdjust="spacingAndGlyphs" stroke="#000" stroke-width="0.3">1 May 20:00</text>
<rect x="1157" y="834" width="1" height="3" fill="#000"/>
<text x="1156.5" y="846" font-size="10" fill="#000" textLength="51.0" lengthAdjust="spacingAndGlyphs" stroke="#000" stroke-width="0.3">2 May 12:00</text>
<rect x="1221" y="834" width="1" height="3" fill="#000"/>
<text x="1220.5" y="846" font-size="10" fill="#000" textLength="51.0" lengthAdjust="spacingAndGlyphs" stroke="#000" stroke-width="0.3">3 May 04:00</text>
<rect x="1285" y="834" width="1" height="3" fill="#000"/>
<text x="1284.5" y="846" font-size="10" fill="#000" textLength="51.0" lengthAdjust="spacingAndGlyphs" stroke="#000" stroke-width="0.3">3 May 20:00</text>
<g id="toolbar" shape-rendering="crispEdges">
<defs><linearGradient id="gGold" x1="0" y1="0" x2="1" y2="1"><stop offset="0" stop-color="#fff0a0"/><stop offset="0.5" stop-color="#e8b428"/><stop offset="1" stop-color="#a87808"/></linearGradient><linearGradient id="gPlus" x1="0" y1="0" x2="0" y2="1"><stop offset="0" stop-color="#6af06a"/><stop offset="0.5" stop-color="#10e030"/><stop offset="1" stop-color="#0aa80a"/></linearGradient><linearGradient id="gBlue" x1="0" y1="0" x2="0" y2="1"><stop offset="0" stop-color="#6ab0ff"/><stop offset="1" stop-color="#1050c0"/></linearGradient><linearGradient id="gGreen" x1="0" y1="0" x2="0" y2="1"><stop offset="0" stop-color="#5ab830"/><stop offset="1" stop-color="#2a8a10"/></linearGradient><linearGradient id="gRed" x1="0" y1="0" x2="0" y2="1"><stop offset="0" stop-color="#e85030"/><stop offset="1" stop-color="#d82010"/></linearGradient><radialGradient id="gLens" cx="0.4" cy="0.35" r="0.7"><stop offset="0" stop-color="#ffffff"/><stop offset="1" stop-color="#b8d8f8"/></radialGradient><pattern id="chk" width="2" height="2" patternUnits="userSpaceOnUse"><rect width="2" height="2" fill="#ffffff"/><rect width="1" height="1" fill="#f0f0f0"/><rect x="1" y="1" width="1" height="1" fill="#f0f0f0"/></pattern></defs>
<rect x="5" y="1" width="1" height="21" fill="#a0a0a0"/>
<rect x="336" y="1" width="1" height="21" fill="#a0a0a0"/>
<rect x="426" y="1" width="1" height="21" fill="#a0a0a0"/>
<rect x="488" y="1" width="1" height="21" fill="#a0a0a0"/>
<rect x="676" y="1" width="1" height="21" fill="#a0a0a0"/>
<rect x="241" y="0" width="1" height="24" fill="#a0a0a0"/><rect x="242" y="0" width="1" height="24" fill="#fff"/>
<rect x="245" y="2" width="4" height="1" fill="#a8a8a8"/>
<rect x="245" y="4" width="4" height="1" fill="#a8a8a8"/>
<rect x="245" y="6" width="4" height="1" fill="#a8a8a8"/>
<rect x="245" y="8" width="4" height="1" fill="#a8a8a8"/>
<rect x="245" y="10" width="4" height="1" fill="#a8a8a8"/>
<rect x="245" y="12" width="4" height="1" fill="#a8a8a8"/>
<rect x="245" y="14" width="4" height="1" fill="#a8a8a8"/>
<rect x="245" y="16" width="4" height="1" fill="#a8a8a8"/>
<rect x="245" y="18" width="4" height="1" fill="#a8a8a8"/>
<rect x="245" y="20" width="4" height="1" fill="#a8a8a8"/>
<rect x="609" y="0" width="1" height="24" fill="#a0a0a0"/><rect x="610" y="0" width="1" height="24" fill="#fff"/>
<rect x="613" y="2" width="4" height="1" fill="#a8a8a8"/>
<rect x="613" y="4" width="4" height="1" fill="#a8a8a8"/>
<rect x="613" y="6" width="4" height="1" fill="#a8a8a8"/>
<rect x="613" y="8" width="4" height="1" fill="#a8a8a8"/>
<rect x="613" y="10" width="4" height="1" fill="#a8a8a8"/>
<rect x="613" y="12" width="4" height="1" fill="#a8a8a8"/>
<rect x="613" y="14" width="4" height="1" fill="#a8a8a8"/>
<rect x="613" y="16" width="4" height="1" fill="#a8a8a8"/>
<rect x="613" y="18" width="4" height="1" fill="#a8a8a8"/>
<rect x="613" y="20" width="4" height="1" fill="#a8a8a8"/>
<rect x="915" y="0" width="1" height="24" fill="#a0a0a0"/><rect x="916" y="0" width="1" height="24" fill="#fff"/>
<rect x="919" y="2" width="4" height="1" fill="#a8a8a8"/>
<rect x="919" y="4" width="4" height="1" fill="#a8a8a8"/>
<rect x="919" y="6" width="4" height="1" fill="#a8a8a8"/>
<rect x="919" y="8" width="4" height="1" fill="#a8a8a8"/>
<rect x="919" y="10" width="4" height="1" fill="#a8a8a8"/>
<rect x="919" y="12" width="4" height="1" fill="#a8a8a8"/>
<rect x="919" y="14" width="4" height="1" fill="#a8a8a8"/>
<rect x="919" y="16" width="4" height="1" fill="#a8a8a8"/>
<rect x="919" y="18" width="4" height="1" fill="#a8a8a8"/>
<rect x="919" y="20" width="4" height="1" fill="#a8a8a8"/>
<rect x="1176" y="0" width="1" height="24" fill="#a0a0a0"/><rect x="1177" y="0" width="1" height="24" fill="#fff"/>
<rect x="279" y="0" width="25" height="23" fill="url(#chk)"/><rect x="279" y="0" width="25" height="1" fill="#a0a0a0"/><rect x="279" y="0" width="1" height="22" fill="#a0a0a0"/><rect x="304" y="0" width="1" height="23" fill="#fff"/><rect x="279" y="22" width="25" height="1" fill="#fff"/>
<rect x="431" y="0" width="25" height="23" fill="url(#chk)"/><rect x="431" y="0" width="25" height="1" fill="#a0a0a0"/><rect x="431" y="0" width="1" height="22" fill="#a0a0a0"/><rect x="456" y="0" width="1" height="23" fill="#fff"/><rect x="431" y="22" width="25" height="1" fill="#fff"/>
<rect x="459" y="0" width="25" height="23" fill="url(#chk)"/><rect x="459" y="0" width="25" height="1" fill="#a0a0a0"/><rect x="459" y="0" width="1" height="22" fill="#a0a0a0"/><rect x="484" y="0" width="1" height="23" fill="#fff"/><rect x="459" y="22" width="25" height="1" fill="#fff"/>
<rect x="619" y="0" width="25" height="23" fill="url(#chk)"/><rect x="619" y="0" width="25" height="1" fill="#a0a0a0"/><rect x="619" y="0" width="1" height="22" fill="#a0a0a0"/><rect x="644" y="0" width="1" height="23" fill="#fff"/><rect x="619" y="22" width="25" height="1" fill="#fff"/>
<rect x="1065" y="0" width="25" height="23" fill="url(#chk)"/><rect x="1065" y="0" width="25" height="1" fill="#a0a0a0"/><rect x="1065" y="0" width="1" height="22" fill="#a0a0a0"/><rect x="1090" y="0" width="1" height="23" fill="#fff"/><rect x="1065" y="22" width="25" height="1" fill="#fff"/>
<g shape-rendering="auto">
<path d="M15.6,5.4q0,-0.9 0.9,-0.9h6.9l2.9,2.9v9.4q0,0.9 -0.9,0.9h-8.9q-0.9,0 -0.9,-0.9z" fill="#fdfdfd" stroke="#707070" stroke-width="1.1"/><path d="M23.4,4.6v2.9h2.9" fill="#f4f4f4" stroke="#707070" stroke-width="0.9"/><path d="M17.2,6.9h2.8" stroke="#8a8a8a" stroke-width="1.5"/><path d="M17.2,10.4h6.4M17.2,12.4h4.6M17.2,14.4h2.4" stroke="#8a8a8a" stroke-width="0.9"/>
<path d="M23.5,10.4h3v4.1h4.1v3h-4.1v4.1h-3v-4.1h-4.1v-3h4.1z" fill="url(#gPlus)" stroke="#0e8e0e" stroke-width="0.9" stroke-linejoin="round"/><path d="M24.5,11.2v3.4M20.2,15.5h9.2" stroke="#b8ffb8" stroke-width="0.9" opacity="0.6"/>
<text x="33.8" y="15" font-size="12" fill="#000" stroke="#000" stroke-width="0.2">新订单</text>
<path d="M87.2,5.1L97.7,13.2L89.7,19.8L82,13.6C84.6,11.6 86.4,8.4 87.2,5.1z" fill="url(#gGold)" stroke="#a86c08" stroke-width="0.9" stroke-linejoin="round"/><path d="M97,13.4L90,19.2" stroke="#efe6a8" stroke-width="1.3"/><path d="M82.6,14L89.7,19.4" stroke="#f6d860" stroke-width="1.6"/><path d="M82,14.4L89.7,20.1L97.7,13.6" stroke="#a86c08" stroke-width="0.8" fill="none"/>
<defs><linearGradient id="gSrv" x1="0" y1="0" x2="0" y2="1"><stop offset="0" stop-color="#2aa8ff"/><stop offset="1" stop-color="#0a84f0"/></linearGradient><linearGradient id="gCloud" x1="0" y1="0" x2="0" y2="1"><stop offset="0" stop-color="#ffffff"/><stop offset="1" stop-color="#b8c6de"/></linearGradient></defs>
<path d="M112,5.4l1.4,-1.4h8.2l1.6,1.6v9h-11.2z" fill="url(#gSrv)"/><path d="M112.6,5l2.6,1.8v7.6" stroke="#d8f0ff" stroke-width="0.8" fill="none"/><path d="M117,9.4l4.8,-0.8" stroke="#e8f6ff" stroke-width="1.1"/><path d="M113.2,19.4a3.1,3.1 0 0 1 -0.2,-6.1a3.4,3.4 0 0 1 5.2,-0.2a3.2,3.2 0 0 1 3.8,0.6a2.9,2.9 0 0 1 1.2,5.7z" fill="url(#gCloud)" stroke="#4a68a8" stroke-width="0.9"/>
<defs><linearGradient id="gSig" x1="0" y1="0.5" x2="1" y2="0.5"><stop offset="0" stop-color="#3a64d8"/><stop offset="0.55" stop-color="#b8c8ec"/><stop offset="1" stop-color="#7aa0c0"/></linearGradient><radialGradient id="gSec" cx="0" cy="0" r="1"><stop offset="0" stop-color="#d8ecd8"/><stop offset="1" stop-color="#58b058"/></radialGradient></defs>
<path d="M146.2,12h7.9a7.9,7.9 0 0 1 -7.9,7.9z" fill="url(#gSec)" opacity="0.85"/><g fill="none" stroke="url(#gSig)" stroke-width="0.95" opacity="0.8"><circle cx="146" cy="12" r="7.8"/><circle cx="146" cy="12" r="5.5"/><circle cx="146" cy="12" r="3.2"/></g><path d="M146.5,12v7.8" stroke="#18a018" stroke-width="1.5"/><circle cx="145.6" cy="11.7" r="1.8" fill="#2a50d0"/>
<path d="M165.8,11l15,-0.4l-5.6,9.2h-2.4z" fill="#fae060" stroke="#c89810" stroke-width="0.7" stroke-linejoin="round"/><path d="M167.2,12.2l5.6,6.8" stroke="#fff8c0" stroke-width="1.3" opacity="0.8"/><path d="M165.2,8.6c0.6,-1.6 3,-1.2 4.4,-0.8c0.2,-5 7.4,-5 7.6,0c1.4,-0.8 3.4,-1 3.8,0.6c0.4,2.2 -4.2,3.6 -8,3.6s-8.4,-1.2 -7.8,-3.4z" fill="#58b0e8" stroke="#1a80b0" stroke-width="0.7"/><path d="M170,8.2c1.6,1 5,1 6.8,0" stroke="#2a88c0" stroke-width="0.6" fill="none"/><circle cx="177.6" cy="15.7" r="4.3" fill="#d82810"/><rect x="176" y="14.1" width="3.2" height="3.2" fill="#fff"/>
<text x="185.4" y="15" font-size="12" fill="#000" stroke="#000" stroke-width="0.2">自动交易</text>
<path d="M259.3,6.5V20M257,17.6H270.5" stroke="#555" stroke-width="1.3" fill="none"/><path d="M257.5,8.6l1.8,-2.8l1.8,2.8zM269,15.8l2.8,1.8l-2.8,1.8z" fill="#555"/><path d="M265.7,7V15.9M265.7,8.5h2.5M263.2,14.4h2.5" stroke="#0a8a0a" stroke-width="1.2" fill="none"/>
<path d="M287.3,6.5V20M285,17.6H298.5" stroke="#555" stroke-width="1.3" fill="none"/><path d="M285.5,8.6l1.8,-2.8l1.8,2.8zM297,15.8l2.8,1.8l-2.8,1.8z" fill="#555"/><defs><linearGradient id="gCnd" x1="0" y1="0" x2="1" y2="0"><stop offset="0" stop-color="#30d030"/><stop offset="0.45" stop-color="#a0ffa0"/><stop offset="1" stop-color="#18b818"/></linearGradient></defs><path d="M293.45,4.2V15.8" stroke="#0a7a0a" stroke-width="1.1"/><rect x="291.4" y="6.4" width="4.1" height="7.1" fill="url(#gCnd)" stroke="#0a8a0a" stroke-width="0.9"/>
<path d="M315.3,6.5V20M313,17.6H326.5" stroke="#555" stroke-width="1.3" fill="none"/><path d="M313.5,8.6l1.8,-2.8l1.8,2.8zM325,15.8l2.8,1.8l-2.8,1.8z" fill="#555"/><path d="M314.5,14.6C316.6,13.4 318.4,9.3 320.3,9.3C322.2,9.3 323.8,12.4 326,13" stroke="#1a8a1a" stroke-width="0.95" fill="none"/>
<path d="M354.65000000000003,13.8l5.6,5.4" stroke="#a87408" stroke-width="3.6" stroke-linecap="butt"/><path d="M354.85,14l5.2,5" stroke="#f0d040" stroke-width="2.2" stroke-linecap="butt"/><path d="M355.25,13.6l5.2,5" stroke="#fff8b0" stroke-width="0.8" stroke-linecap="butt"/><circle cx="351.05" cy="9.9" r="5.55" fill="#d2eefc" stroke="#3a80c4" stroke-width="1.1"/><path d="M347.85,7.2a4.2,4.2 0 0 1 6.4,0" stroke="#ffffff" stroke-width="1.2" fill="none" opacity="0.8"/><path d="M347.45,10h7.2" stroke="#4a8cb4" stroke-width="2"/><path d="M351.05,6.4v7.2" stroke="#4a8cb4" stroke-width="2"/>
<path d="M382.65000000000003,13.8l5.6,5.4" stroke="#a87408" stroke-width="3.6" stroke-linecap="butt"/><path d="M382.85,14l5.2,5" stroke="#f0d040" stroke-width="2.2" stroke-linecap="butt"/><path d="M383.25,13.6l5.2,5" stroke="#fff8b0" stroke-width="0.8" stroke-linecap="butt"/><circle cx="379.05" cy="9.9" r="5.55" fill="#d2eefc" stroke="#3a80c4" stroke-width="1.1"/><path d="M375.85,7.2a4.2,4.2 0 0 1 6.4,0" stroke="#ffffff" stroke-width="1.2" fill="none" opacity="0.8"/><path d="M376.15000000000003,10h5.8" stroke="#4a8cb4" stroke-width="2"/>
<defs><linearGradient id="gTB" x1="0" y1="1" x2="1" y2="0"><stop offset="0" stop-color="#3a78e8"/><stop offset="1" stop-color="#0a34b4"/></linearGradient><linearGradient id="gTG" x1="0" y1="1" x2="1" y2="0"><stop offset="0" stop-color="#48b020"/><stop offset="1" stop-color="#289008"/></linearGradient></defs>
<rect x="401" y="4.1" width="8" height="7.9" rx="0.7" fill="url(#gTG)"/><rect x="402" y="5.1" width="1" height="1" fill="#e8f0ff"/><path d="M402.2,7.1h5.6v3.9h-0.9v-0.9h-3.8v0.9h-0.9z" fill="#ffffff"/><rect x="403.2" y="8.1" width="3.6" height="0.9" fill="#98d878"/>
<rect x="409.1" y="4.1" width="8" height="7.9" rx="0.7" fill="url(#gTB)"/><rect x="410.1" y="5.1" width="1" height="1" fill="#e8f0ff"/><path d="M410.3,7.1h5.6v3.9h-0.9v-0.9h-3.8v0.9h-0.9z" fill="#ffffff"/><rect x="411.3" y="8.1" width="3.6" height="0.9" fill="#88a8f0"/>
<rect x="401" y="12" width="8" height="7.9" rx="0.7" fill="url(#gTB)"/><rect x="402" y="13" width="1" height="1" fill="#e8f0ff"/><path d="M402.2,15h5.6v3.9h-0.9v-0.9h-3.8v0.9h-0.9z" fill="#ffffff"/><rect x="403.2" y="16" width="3.6" height="0.9" fill="#88a8f0"/>
<rect x="409.1" y="12" width="8" height="7.9" rx="0.7" fill="url(#gTG)"/><rect x="410.1" y="13" width="1" height="1" fill="#e8f0ff"/><path d="M410.3,15h5.6v3.9h-0.9v-0.9h-3.8v0.9h-0.9z" fill="#ffffff"/><rect x="411.3" y="16" width="3.6" height="0.9" fill="#98d878"/>
<path d="M439.3,6.5V20M437,17.6H450.5" stroke="#555" stroke-width="1.3" fill="none"/><path d="M437.5,8.6l1.8,-2.8l1.8,2.8zM449,15.8l2.8,1.8l-2.8,1.8z" fill="#555"/><polygon points="444.4,8 444.4,15 449.4,11.5" fill="#3ad83a" stroke="#0a8a0a" stroke-width="0.9"/>
<path d="M467.3,6.5V20M465,17.6H478.5" stroke="#555" stroke-width="1.3" fill="none"/><path d="M465.5,8.6l1.8,-2.8l1.8,2.8zM477,15.8l2.8,1.8l-2.8,1.8z" fill="#555"/><path d="M473.7,6V16.2" stroke="#1a6aa8" stroke-width="1.4"/><path d="M479.2,11.5h-4M477.4,9.4l-2.6,2.1l2.6,2.1" stroke="#e04800" stroke-width="1.2" fill="none"/>
<path d="M498.6,4.9q0,-0.9 0.9,-0.9h6.9l3.1,3.1v9.4q0,0.9 -0.9,0.9h-9.1q-0.9,0 -0.9,-0.9z" fill="#fdfdfd" stroke="#707070" stroke-width="1.1"/><path d="M506.4,4.1v3h3" fill="#f4f4f4" stroke="#707070" stroke-width="0.9"/><text x="499.6" y="14.6" font-size="11.5" font-style="italic" fill="#403828" style="font-family:'Liberation Serif',serif">f</text>
<path d="M506.5,10.500000000000002h3v4.1h4.1v3h-4.1v4.1h-3v-4.1h-4.1v-3h4.1z" fill="url(#gPlus)" stroke="#0e8e0e" stroke-width="0.9" stroke-linejoin="round"/><path d="M507.5,11.3v3.4M503.2,15.600000000000001h9.2" stroke="#b8ffb8" stroke-width="0.9" opacity="0.6"/>
<polygon points="520,10.8 525.6,10.8 522.8,14.2" fill="#000"/>
<defs><linearGradient id="gClk" x1="0" y1="0" x2="0" y2="1"><stop offset="0" stop-color="#48a8f8"/><stop offset="0.5" stop-color="#1070d8"/><stop offset="1" stop-color="#0848a8"/></linearGradient></defs>
<circle cx="544.05" cy="11.9" r="6.75" fill="#fcfcfc" stroke="url(#gClk)" stroke-width="2.5"/><path d="M543.7,8v3.7l2.9,0.3" stroke="#282828" stroke-width="1.3" fill="none"/><g fill="#8090a0"><circle cx="544" cy="7.2" r="0.45"/><circle cx="544" cy="16.6" r="0.45"/><circle cx="539.3" cy="11.9" r="0.45"/><circle cx="548.8" cy="11.9" r="0.45"/><circle cx="540.7" cy="8.6" r="0.4"/><circle cx="547.4" cy="8.6" r="0.4"/><circle cx="540.7" cy="15.2" r="0.4"/><circle cx="547.4" cy="15.2" r="0.4"/></g>
<polygon points="559,10.8 564.6,10.8 561.8,14.2" fill="#000"/>
<rect x="575.6" y="5.35" width="14.7" height="12.9" fill="#fff" stroke="#3a78c0" stroke-width="1"/><rect x="576.1" y="5.85" width="13.7" height="1.9" fill="#5a9ae0"/><rect x="576.6" y="6.1" width="6" height="0.7" fill="#b8d8f8"/><path d="M576.1,13.3h13.7" stroke="#4a88d0" stroke-width="0.9"/><path d="M576.1,14.1h13.7" stroke="#d0e0f4" stroke-width="0.7"/><path d="M577.3,11.4h2.4l3,-2.1l2.2,1.1h2l2,-1.2" stroke="#a02808" stroke-width="1.15" fill="none"/><path d="M578,16.5h1.8l1.7,-1l2,1l2.3,-2.2l0.8,0l2,2.4" stroke="#148a1c" stroke-width="1.1" fill="none"/>
<polygon points="598,10.8 603.6,10.8 600.8,14.2" fill="#000"/>
<path d="M627.2,5V16l2.8,-2.2l2.6,5.2l1.8,-0.9l-2.6,-5l3.6,-0.4z" fill="#505050"/>
<path d="M652,12.4h6.4M660.8,12.4h6.4M659.6,5v6.2M659.6,13.6v6.2" stroke="#505050" stroke-width="1.2"/>
<path d="M693.6,6V19M716,12.4H728.2M743.8,18.8L756.2,7" stroke="#505050" stroke-width="1.2" fill="none"/>
<path d="M770,14l11.6,-9M771.6,18.4l12,-9.2" stroke="#484848" stroke-width="1.2" fill="none"/><path d="M772,17.6l2.6,-6.4M775,15.4l2.6,-6.6M778.2,13l2.4,-6.4M781.2,10.6l1.6,-5M771,14.6l4.4,2M775,11.4l4,2M779,8.4l3.6,1.8" stroke="#484848" stroke-width="0.95" fill="none"/>
<text x="780.6" y="21" font-size="7.5" font-weight="bold" fill="#404040">E</text>
<path d="M799,5.5H812.5" stroke="#505050" stroke-width="1" stroke-dasharray="1 1" shape-rendering="crispEdges"/>
<path d="M799,8.5H812.5" stroke="#505050" stroke-width="1" stroke-dasharray="1 1" shape-rendering="crispEdges"/>
<path d="M799,12.5H812.5" stroke="#505050" stroke-width="1" stroke-dasharray="1 1" shape-rendering="crispEdges"/>
<path d="M799,16.5H808" stroke="#505050" stroke-width="1" stroke-dasharray="1 1" shape-rendering="crispEdges"/>
<text x="808.8" y="21" font-size="7.5" font-weight="bold" fill="#404040">F</text>
<text x="829.6" y="17" font-size="12.5" fill="#505050" stroke="#505050" stroke-width="0.45" textLength="8.6" lengthAdjust="spacingAndGlyphs">A</text>
<g fill="#505050" shape-rendering="crispEdges"><rect x="856" y="6" width="1" height="1"/><rect x="856" y="18" width="1" height="1"/><rect x="856" y="6" width="1" height="1"/><rect x="868" y="6" width="1" height="1"/><rect x="858" y="6" width="1" height="1"/><rect x="858" y="18" width="1" height="1"/><rect x="856" y="8" width="1" height="1"/><rect x="868" y="8" width="1" height="1"/><rect x="860" y="6" width="1" height="1"/><rect x="860" y="18" width="1" height="1"/><rect x="856" y="10" width="1" height="1"/><rect x="868" y="10" width="1" height="1"/><rect x="862" y="6" width="1" height="1"/><rect x="862" y="18" width="1" height="1"/><rect x="856" y="12" width="1" height="1"/><rect x="868" y="12" width="1" height="1"/><rect x="864" y="6" width="1" height="1"/><rect x="864" y="18" width="1" height="1"/><rect x="856" y="14" width="1" height="1"/><rect x="868" y="14" width="1" height="1"/><rect x="866" y="6" width="1" height="1"/><rect x="866" y="18" width="1" height="1"/><rect x="856" y="16" width="1" height="1"/><rect x="868" y="16" width="1" height="1"/><rect x="868" y="6" width="1" height="1"/><rect x="868" y="18" width="1" height="1"/><rect x="856" y="18" width="1" height="1"/><rect x="868" y="18" width="1" height="1"/><rect x="856" y="5" width="2" height="1"/></g>
<text x="858.3" y="17.2" font-size="11.2" font-weight="bold" fill="#505050" textLength="7.8" lengthAdjust="spacingAndGlyphs">T</text>
<path d="M883.2,8.2l3.4,-2.6l3.4,2.6l-3.4,2z" fill="#505050"/><path d="M890.4,16.2l3.3,-2l3.3,2l-3.3,2.8z" fill="#505050"/><path d="M885,13.2l2.4,2.2l4.4,-5.2" stroke="#505050" stroke-width="1.4" fill="none"/>
<polygon points="904,10.8 909.6,10.8 906.8,14.2" fill="#000"/>
<text x="930.8" y="16" font-size="10" fill="#404040" stroke="#404040" stroke-width="0.08" textLength="12.7" lengthAdjust="spacingAndGlyphs">M1</text>
<text x="958.8" y="16" font-size="10" fill="#404040" stroke="#404040" stroke-width="0.08" textLength="12.3" lengthAdjust="spacingAndGlyphs">M5</text>
<text x="984.6" y="16" font-size="10" fill="#404040" stroke="#404040" stroke-width="0.08" textLength="17.7" lengthAdjust="spacingAndGlyphs">M15</text>
<text x="1012.7" y="16" font-size="10" fill="#404040" stroke="#404040" stroke-width="0.08" textLength="17.7" lengthAdjust="spacingAndGlyphs">M30</text>
<text x="1043.8" y="16" font-size="10" fill="#404040" stroke="#404040" stroke-width="0.08" textLength="11.6" lengthAdjust="spacingAndGlyphs">H1</text>
<text x="1070.8" y="16" font-size="10" fill="#404040" stroke="#404040" stroke-width="0.08" textLength="12.2" lengthAdjust="spacingAndGlyphs">H4</text>
<text x="1099.6" y="16" font-size="10" fill="#404040" stroke="#404040" stroke-width="0.08" textLength="11.4" lengthAdjust="spacingAndGlyphs">D1</text>
<text x="1127" y="16" font-size="10" fill="#404040" stroke="#404040" stroke-width="0.08" textLength="14" lengthAdjust="spacingAndGlyphs">W1</text>
<text x="1153.8" y="16" font-size="10" fill="#404040" stroke="#404040" stroke-width="0.08" textLength="14.7" lengthAdjust="spacingAndGlyphs">MN</text>
<path d="M1643.6,12.6l-4.8,4.8" stroke="#2a5fd0" stroke-width="2" stroke-linecap="round"/><circle cx="1646.8" cy="9.5" r="3.9" fill="#f4f6ff" stroke="#2a5fd0" stroke-width="1.2"/>
<path d="M1664,13a5,4.2 0 0 1 10,0a5,4.2 0 0 1 -5,4.2l-2.6,2.6l0.2,-3a5,4.2 0 0 1 -2.6,-3.8z" fill="#e4e6ee" stroke="#b0b0b4" stroke-width="0.9"/><circle cx="1677.5" cy="9.3" r="8.2" fill="url(#gRed)"/><text x="1677.5" y="14" font-size="13" fill="#fff" text-anchor="middle">1</text>
</g></g>
</svg>
</body>
</html>
